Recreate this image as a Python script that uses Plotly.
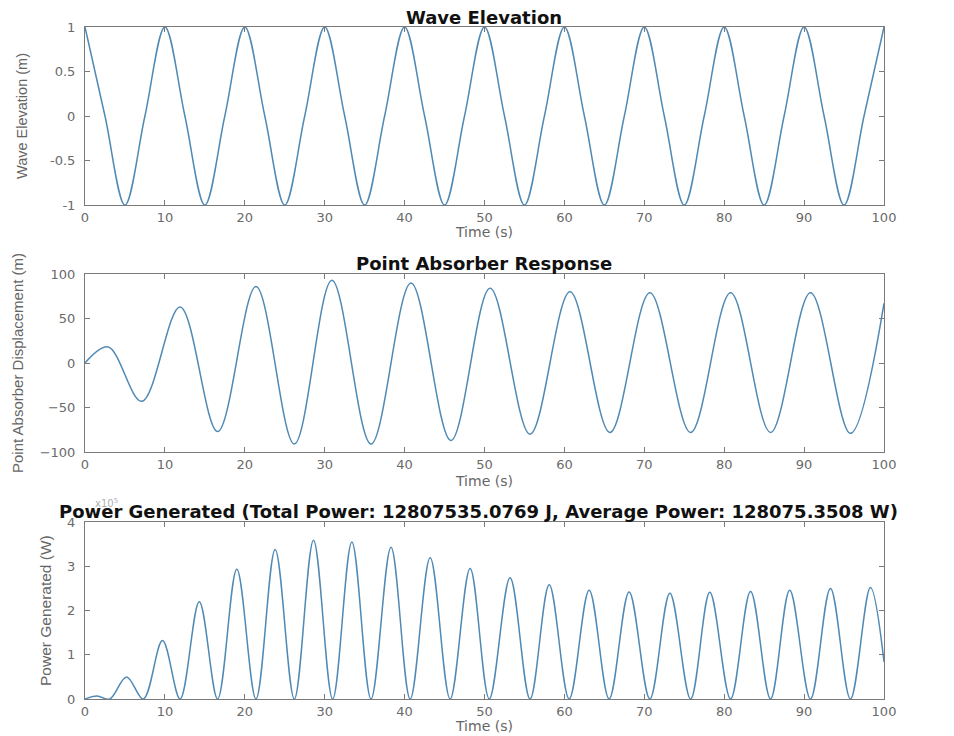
import plotly.graph_objects as go
from plotly.subplots import make_subplots

# ---------------- data ----------------
# Wave elevation: extrema and zero crossings (s, m)
t_wave = [0, 2.5, 5, 7.5, 10, 12.5, 15, 17.5, 20, 22.5, 25, 27.5, 30, 32.5, 35, 37.5,
          40, 42.5, 45, 47.5, 50, 52.5, 55, 57.5, 60, 62.5, 65, 67.5, 70, 72.5, 75, 77.5,
          80, 82.5, 85, 87.5, 90, 92.5, 95, 97.5, 100]
wave_elev = [1, 0, -1, 0, 1, 0, -1, 0, 1, 0, -1, 0, 1, 0, -1, 0,
             1, 0, -1, 0, 1, 0, -1, 0, 1, 0, -1, 0, 1, 0, -1, 0,
             1, 0, -1, 0, 1, 0, -1, 0, 1]

# Point absorber displacement: extrema (s, m)
t_disp = [0, 2.9, 7.1, 11.9, 16.6, 21.4, 26.2, 30.9, 35.8, 40.8, 45.8, 50.7, 55.7,
          60.7, 65.7, 70.7, 75.8, 80.8, 85.8, 90.8, 95.8, 100]
displacement = [0, 18, -43, 63, -77, 86, -91, 93, -91, 90, -87, 84, -80,
                80, -78, 79, -78, 79, -78, 79, -79, 67]

# Power generated: peaks and zeros (s, W)
t_power = [0, 1.5, 3.1, 5.2, 7.3, 9.7, 11.9, 14.3, 16.6, 19.0, 21.4, 23.8, 26.2, 28.6,
           31.0, 33.4, 35.8, 38.3, 40.7, 43.2, 45.7, 48.2, 50.6, 53.2, 55.7, 58.1, 60.6,
           63.1, 65.6, 68.1, 70.7, 73.2, 75.8, 78.2, 80.8, 83.3, 85.8, 88.2, 90.8, 93.3,
           95.8, 98.3, 100]
power = [0, 7000, 0, 50000, 0, 132000, 0, 220000, 0, 293000, 0, 338000, 0, 359000,
         0, 355000, 0, 343000, 0, 319000, 0, 295000, 0, 274000, 0, 258000, 0,
         246000, 0, 242000, 0, 239000, 0, 241000, 0, 243000, 0, 246000, 0, 250000,
         0, 252000, 84000]

x_ticks = [0, 10, 20, 30, 40, 50, 60, 70, 80, 90, 100]
wave_ticks = [-1, -0.5, 0, 0.5, 1]
wave_ticktext = ["-1", "-0.5", "0", "0.5", "1"]
disp_ticks = [-100, -50, 0, 50, 100]
power_ticks = [0, 100000, 200000, 300000, 400000]
power_ticktext = ["0", "1", "2", "3", "4"]

titles = ["Wave Elevation", "Point Absorber Response",
          "Power Generated (Total Power: 12807535.0769 J, Average Power: 128075.3508 W)"]
y_titles = ["Wave Elevation (m)", "Point Absorber Displacement (m)", "Power Generated (W)"]
x_title = "Time (s)"

# ---------------- figure ----------------
OFF = 8                      # page body margin
W, H = 954 - 2 * OFF, 736 - OFF
L, R, T, B = 85 - OFF, 884 - OFF, 27 - OFF, 699 - OFF
PH = B - T

def px(x_page):
    return (x_page - OFF - L) / (R - L)

def py(y_page):
    return (B - (y_page - OFF)) / PH

line_color = "#5089b4"
fig = make_subplots(rows=3, cols=1)
for row, (xs, ys) in enumerate([(t_wave, wave_elev), (t_disp, displacement),
                                (t_power, power)], start=1):
    fig.add_trace(go.Scatter(x=xs, y=ys, mode="lines", hoverinfo="skip",
                             line=dict(color=line_color, width=1.5, shape="spline",
                                       smoothing=1.0)),
                  row=row, col=1)

axis_common = dict(showline=True, linecolor="#7a7a7a", linewidth=1, mirror="ticks",
                   ticks="inside", ticklen=5, tickcolor="#7a7a7a", showgrid=False,
                   zeroline=False,
                   tickfont=dict(family="DejaVu Sans", size=13, color="#6a6a6a"))

domains = [(py(205), py(27)), (py(452), py(274)), (py(699), py(522))]
for i in range(3):
    fig.update_xaxes(range=[0, 100], tickvals=x_ticks, domain=[0, 1], **axis_common,
                     row=i + 1, col=1)
fig.update_yaxes(range=[-1, 1], tickvals=wave_ticks, ticktext=wave_ticktext,
                 domain=list(domains[0]), ticklabelstandoff=6, **axis_common, row=1, col=1)
fig.update_yaxes(range=[-100, 100], tickvals=disp_ticks, ticklabelstandoff=6,
                 domain=list(domains[1]), **axis_common, row=2, col=1)
fig.update_yaxes(range=[0, 400000], tickvals=power_ticks, ticktext=power_ticktext,
                 ticklabelstandoff=6,
                 domain=list(domains[2]), **axis_common, row=3, col=1)

ann = []
title_pos = [(484, 18), (484, 264), (478, 511)]
for (x, y), txt in zip(title_pos, titles):
    ann.append(dict(x=px(x), y=py(y), xref="paper", yref="paper", text="<b>" + txt + "</b>",
                    showarrow=False, xanchor="center", yanchor="middle",
                    font=dict(family="DejaVu Sans", size=18, color="#111111")))
for y in [232, 481, 726]:
    ann.append(dict(x=px(484), y=py(y), xref="paper", yref="paper", text=x_title,
                    showarrow=False, xanchor="center", yanchor="middle",
                    font=dict(family="DejaVu Sans", size=14, color="#666666")))
ytitle_pos = [(22, 116, 14.5), (17, 363, 15), (45, 611, 15.5)]
for (x, y, s), txt in zip(ytitle_pos, y_titles):
    ann.append(dict(x=px(x), y=py(y), xref="paper", yref="paper", text=txt, textangle=-90,
                    showarrow=False, xanchor="center", yanchor="middle",
                    font=dict(family="Liberation Sans Narrow, Liberation Sans, sans-serif",
                              size=s, color="#666666")))
ann.append(dict(x=px(106), y=py(503), xref="paper", yref="paper", text="x10<sup>5</sup>",
                showarrow=False, xanchor="center", yanchor="middle",
                font=dict(family="DejaVu Sans", size=10, color="#b0b0b0")))

fig.update_layout(width=W, height=H, margin=dict(l=L, r=W - R, t=T, b=H - B),
                  paper_bgcolor="white", plot_bgcolor="white", showlegend=False,
                  annotations=ann)

fig.write_html("out.html")
